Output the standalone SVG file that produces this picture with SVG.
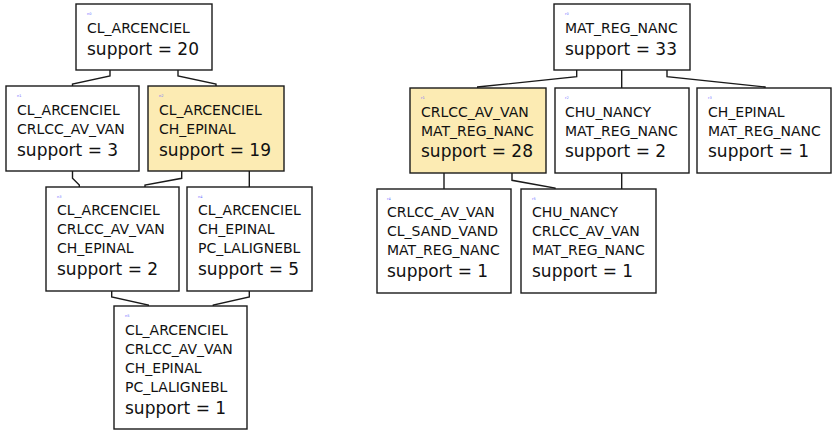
<svg xmlns="http://www.w3.org/2000/svg" width="832" height="433" viewBox="0 0 832 433">
<style>
.box{fill:#ffffff;stroke:#1a1a1a;stroke-width:1.4}
.hl{fill:#fcebb3}
.t{font-family:"DejaVu Sans","Liberation Sans",sans-serif;font-size:14px;fill:#111}
.s{font-family:"DejaVu Sans","Liberation Sans",sans-serif;font-size:17px;fill:#111}
.id{font-family:"DejaVu Sans","Liberation Sans",sans-serif;font-size:3.5px;fill:#6a6aff}
.c{fill:none;stroke:#1a1a1a;stroke-width:1.4}
</style>
<rect width="832" height="433" fill="#ffffff"/>
<g id="connectors">
<polyline class="c" points="110,70 110,76 72.5,84 72.5,86"/>
<polyline class="c" points="178,70 178,76 216,84 216,86"/>
<polyline class="c" points="72.5,171 72.5,178.3 79.3,185 79.3,187"/>
<polyline class="c" points="181.7,171 181.7,178.3 145,185 145,187"/>
<polyline class="c" points="249.3,171 249.3,187"/>
<polyline class="c" points="111.7,291 111.7,297 148.3,305 148.3,306"/>
<polyline class="c" points="249.3,291 249.3,297 213.3,305 213.3,306"/>
<polyline class="c" points="576.7,70 576.7,76.7 477.7,87 477.7,88"/>
<polyline class="c" points="621.7,70 621.7,88"/>
<polyline class="c" points="667,70 667,76.7 765,87 765,88"/>
<polyline class="c" points="444,173 444,189"/>
<polyline class="c" points="512,173 512,180.3 555,188 555,189"/>
<polyline class="c" points="621.7,173 621.7,189"/>
</g>
<g id="n0">
<rect class="box" x="76" y="4" width="136" height="66"/>
<text class="id" x="87" y="15">n0</text>
<text class="t" x="87" y="33">CL_ARCENCIEL</text>
<text class="s" x="87" y="55">support = 20</text>
</g>
<g id="n1">
<rect class="box" x="6" y="86" width="133" height="85"/>
<text class="id" x="17" y="97">n1</text>
<text class="t" x="17" y="115">CL_ARCENCIEL</text>
<text class="t" x="17" y="133.5">CRLCC_AV_VAN</text>
<text class="s" x="17" y="156">support = 3</text>
</g>
<g id="n2">
<rect class="box hl" x="148" y="86" width="136" height="85"/>
<text class="id" x="159" y="97">n2</text>
<text class="t" x="159" y="115">CL_ARCENCIEL</text>
<text class="t" x="159" y="133.5">CH_EPINAL</text>
<text class="s" x="159" y="156">support = 19</text>
</g>
<g id="n3">
<rect class="box" x="46" y="187" width="133" height="104"/>
<text class="id" x="57" y="198">n3</text>
<text class="t" x="57" y="215">CL_ARCENCIEL</text>
<text class="t" x="57" y="234">CRLCC_AV_VAN</text>
<text class="t" x="57" y="253">CH_EPINAL</text>
<text class="s" x="57" y="275">support = 2</text>
</g>
<g id="n4">
<rect class="box" x="187" y="187" width="125" height="104"/>
<text class="id" x="198" y="198">n4</text>
<text class="t" x="198" y="215">CL_ARCENCIEL</text>
<text class="t" x="198" y="234">CH_EPINAL</text>
<text class="t" x="198" y="253">PC_LALIGNEBL</text>
<text class="s" x="198" y="275">support = 5</text>
</g>
<g id="n5">
<rect class="box" x="114" y="306" width="133" height="123"/>
<text class="id" x="125" y="317">n5</text>
<text class="t" x="125" y="335">CL_ARCENCIEL</text>
<text class="t" x="125" y="354">CRLCC_AV_VAN</text>
<text class="t" x="125" y="373">CH_EPINAL</text>
<text class="t" x="125" y="392">PC_LALIGNEBL</text>
<text class="s" x="125" y="414">support = 1</text>
</g>
<g id="r0">
<rect class="box" x="554" y="4" width="136" height="66"/>
<text class="id" x="565" y="15">r0</text>
<text class="t" x="565" y="33">MAT_REG_NANC</text>
<text class="s" x="565" y="55">support = 33</text>
</g>
<g id="r1">
<rect class="box hl" x="410" y="88" width="136" height="85"/>
<text class="id" x="421" y="99">r1</text>
<text class="t" x="421" y="116.5">CRLCC_AV_VAN</text>
<text class="t" x="421" y="135.5">MAT_REG_NANC</text>
<text class="s" x="421" y="157">support = 28</text>
</g>
<g id="r2">
<rect class="box" x="555" y="88" width="134" height="85"/>
<text class="id" x="565" y="99">r2</text>
<text class="t" x="565" y="116.5">CHU_NANCY</text>
<text class="t" x="565" y="135.5">MAT_REG_NANC</text>
<text class="s" x="565" y="157">support = 2</text>
</g>
<g id="r3">
<rect class="box" x="697" y="88" width="134" height="85"/>
<text class="id" x="708" y="99">r3</text>
<text class="t" x="708" y="116.5">CH_EPINAL</text>
<text class="t" x="708" y="135.5">MAT_REG_NANC</text>
<text class="s" x="708" y="157">support = 1</text>
</g>
<g id="r4">
<rect class="box" x="377" y="189" width="134" height="104"/>
<text class="id" x="387" y="200">r4</text>
<text class="t" x="387" y="217">CRLCC_AV_VAN</text>
<text class="t" x="387" y="236">CL_SAND_VAND</text>
<text class="t" x="387" y="255">MAT_REG_NANC</text>
<text class="s" x="387" y="277">support = 1</text>
</g>
<g id="r5">
<rect class="box" x="521" y="189" width="135" height="104"/>
<text class="id" x="532" y="200">r5</text>
<text class="t" x="532" y="217">CHU_NANCY</text>
<text class="t" x="532" y="236">CRLCC_AV_VAN</text>
<text class="t" x="532" y="255">MAT_REG_NANC</text>
<text class="s" x="532" y="277">support = 1</text>
</g>
</svg>
